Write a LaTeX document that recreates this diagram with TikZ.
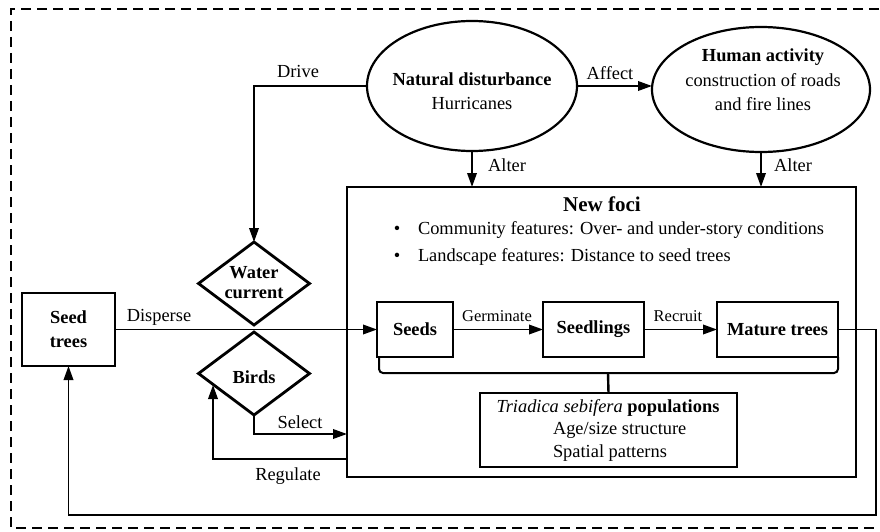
\documentclass[tikz,border=0pt]{standalone}
\usepackage{fontspec}
\setmainfont{Liberation Serif}
\usetikzlibrary{shapes.geometric,arrows.meta}
\begin{document}
\begin{tikzpicture}[x=1pt,y=-1pt,
  every node/.style={font=\fontsize{18.4pt}{24pt}\selectfont, inner sep=0pt, outer sep=0pt},
  conn/.style={line width=1.9pt},
  arr/.style={conn,-{Triangle[length=14pt,width=9.5pt]}},
  boxn/.style={draw, line width=2.2pt, rectangle, font=\fontsize{18.4pt}{24pt}\selectfont\bfseries, align=center},
  ell/.style={draw, ellipse, line width=2.2pt},
  dia/.style={draw, diamond, line width=2.8pt},
  small/.style={font=\fontsize{16.5pt}{20pt}\selectfont},
  bold/.style={font=\fontsize{18.4pt}{24pt}\selectfont\bfseries},
]
\useasboundingbox (0,0) rectangle (880,532);
% dashed frame
\draw[line width=1.8pt, dash pattern=on 10pt off 6pt] (895,9) -- (11,9) -- (11,528) -- (895,528);

% ellipses
\node[ell, minimum width=210pt, minimum height=130pt] (nat) at (472,86) {};
\node[align=center] (natT) at (472,91) {\textbf{Natural disturbance}\\Hurricanes};
\node[ell, minimum width=218pt, minimum height=125pt] (hum) at (761,89.5) {};
\node[align=center, font=\fontsize{18.4pt}{24.5pt}\selectfont] (humT) at (763,80) {\textbf{Human activity}\\construction of roads\\and fire lines};

% new foci box
\node[draw, line width=2.2pt, minimum width=509pt, minimum height=290pt] (foci) at (601.5,332) {};
\node[font=\fontsize{21pt}{24pt}\selectfont\bfseries] (fociT) at (602,204) {New foci};
\node (b1) at (397,230) {\textbullet};
\node[anchor=west] (c1) at (418,230) {Community features: Over- and under-story conditions};
\node (b2) at (397,257) {\textbullet};
\node[anchor=west] (c2) at (418,257) {Landscape features: Distance to seed trees};

% stage boxes
\node[boxn, minimum width=76pt, minimum height=55pt] (seeds) at (415,329.5) {Seeds};
\node[boxn, minimum width=101pt, minimum height=55pt] (seedl) at (593.5,329.5) {Seedlings};
\node[boxn, minimum width=121pt, minimum height=55pt] (mat) at (777.5,329.5) {Mature trees};
\node[boxn, minimum width=93pt, minimum height=73pt] (st) at (68.5,329.5) {Seed\\trees};

% diamonds
\node[dia, minimum width=111pt, minimum height=83pt] (wat) at (254,283.5) {};
\node[bold, align=center, font=\fontsize{18.4pt}{20pt}\selectfont\bfseries] (watT) at (254,283) {Water\\current};
\node[dia, minimum width=111pt, minimum height=83pt] (bird) at (254,373.5) {};
\node[bold] (birdT) at (254,377) {Birds};

% population box
\node[draw, line width=2.2pt, minimum width=257pt, minimum height=74pt] (pop) at (608.5,430) {};
\node (popT) at (608,408) {\textit{Triadica sebifera} \textbf{populations}};
\node[anchor=west] (popA) at (553,430) {Age/size structure};
\node[anchor=west] (popS) at (553,453) {Spatial patterns};

% brace
\draw[line width=2pt, rounded corners=4pt] (seeds.south west) ++(2,0) |- (mat.south east |- 0,373) coordinate (brR) -- (mat.south east);
\draw[line width=2.4pt] (608,373) -- (pop.north);

% connectors
\draw[arr] (nat.east) -- (nat.east -| hum.west);
\node (affect) at (610,73) {Affect};
\draw[arr] (nat.south) -- (nat.south |- foci.north);
\node (alter1) at (507,165) {Alter};
\draw[arr] (hum.south) -- (hum.south |- foci.north);
\node (alter2) at (793,165) {Alter};
\draw[arr] (nat.west) -| (wat.north);
\node (drive) at (298,71) {Drive};
\draw[arr] (st.east) -- (seeds.west);
\node (disp) at (159,317) {Disperse};
\draw[arr] (seeds.east) -- (seedl.west);
\node[small] (germ) at (497,316) {Germinate};
\draw[arr] (seedl.east) -- (mat.west);
\node[small] (rec) at (678,316) {Recruit};
\coordinate (fb) at (876,515);
\draw[arr] (mat.east) -| (fb) -| (st.south);
\coordinate (sel) at (347,434);
\draw[arr] (bird.south) |- (sel);
\node (selT) at (300,422) {Select};
\coordinate (reg) at (347,459);
\coordinate (regE) at (213,385);
\draw[arr] (reg) -| (regE);
\node (regT) at (288,476) {Regulate};
\end{tikzpicture}
\end{document}
